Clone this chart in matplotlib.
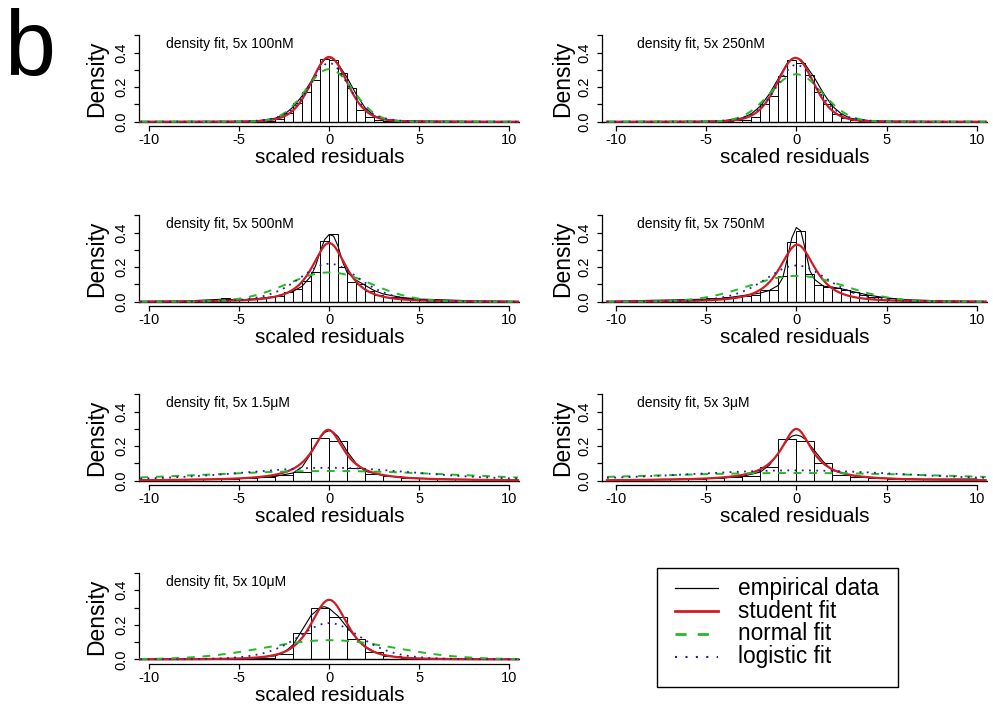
import math
import numpy as np
import matplotlib
matplotlib.use("Agg")
import matplotlib.pyplot as plt
from matplotlib.patches import Rectangle

plt.rcParams['font.family'] = ['Liberation Sans', 'DejaVu Sans']
plt.rcParams['axes.unicode_minus'] = False

# ---------------- data ----------------
titles = ["density fit, 5x 100nM", "density fit, 5x 250nM",
          "density fit, 5x 500nM", "density fit, 5x 750nM",
          "density fit, 5x 1.5\u03bcM", "density fit, 5x 3\u03bcM",
          "density fit, 5x 10\u03bcM"]

# histogram: first bin left edge, bin width, densities
hist_start = [-5.0, -5.0, -6.0, -8.0, -10.0, -10.0, -5.0]
hist_width = [0.5, 0.5, 0.5, 0.5, 1.0, 1.0, 1.0]
hist_100nM = [0.002, 0.002, 0.004, 0.006, 0.014, 0.052, 0.107, 0.175, 0.243, 0.365,
              0.355, 0.28, 0.194, 0.068, 0.025, 0.01, 0.006, 0.004, 0.004, 0.006]
hist_250nM = [0.002, 0.003, 0.005, 0.008, 0.01, 0.025, 0.1, 0.15, 0.265, 0.355,
              0.34, 0.27, 0.175, 0.1, 0.045, 0.02, 0.008, 0.005, 0.003, 0.002]
hist_500nM = [0.02, 0.01, 0.01, 0.015, 0.02, 0.025, 0.035, 0.055, 0.075, 0.12, 0.17, 0.35,
              0.39, 0.2, 0.115, 0.105, 0.06, 0.04, 0.03, 0.025, 0.02, 0.015, 0.015, 0.015]
hist_750nM = [0.008, 0.005, 0.005, 0.01,
              0.015, 0.015, 0.02, 0.02, 0.025, 0.03, 0.035, 0.04, 0.065, 0.07, 0.15, 0.345,
              0.41, 0.16, 0.095, 0.085, 0.08, 0.065, 0.055, 0.04, 0.03, 0.025, 0.02, 0.015,
              0.01, 0.01]
hist_1_5uM = [0.01, 0.01, 0.01, 0.012, 0.012, 0.015, 0.02, 0.035, 0.05, 0.25,
              0.228, 0.075, 0.04, 0.025, 0.018, 0.015, 0.012, 0.01, 0.01, 0.008]
hist_3uM = [0.008, 0.008, 0.01, 0.01, 0.012, 0.015, 0.02, 0.03, 0.08, 0.24,
            0.23, 0.1, 0.033, 0.02, 0.015, 0.012, 0.01, 0.01, 0.008, 0.008]
hist_10uM = [0.005, 0.01, 0.03, 0.155, 0.30, 0.245, 0.12, 0.04, 0.02, 0.01, 0.005]
hists = [hist_100nM, hist_250nM, hist_500nM, hist_750nM, hist_1_5uM, hist_3uM, hist_10uM]

# empirical density (kernel estimate) read at points
emp_x_100nM = [-10, -5, -4, -3, -2.5, -2, -1.5, -1, -0.5, -0.25, 0, 0.25, 0.5, 1, 1.5, 2, 2.5, 3, 4, 5, 10]
emp_y_100nM = [0, 0.002, 0.005, 0.02, 0.042, 0.085, 0.15, 0.235, 0.325, 0.362, 0.372, 0.362, 0.335,
               0.255, 0.16, 0.08, 0.035, 0.015, 0.005, 0.004, 0]
emp_x_250nM = emp_x_100nM
emp_y_250nM = [0, 0.002, 0.006, 0.022, 0.045, 0.09, 0.16, 0.25, 0.34, 0.365, 0.37, 0.36, 0.33,
               0.255, 0.165, 0.09, 0.045, 0.02, 0.007, 0.003, 0]
emp_x_500nM = [-10, -8, -6, -5, -4, -3, -2, -1.5, -1, -0.75, -0.5, -0.25, 0, 0.25, 0.5, 0.75, 1,
               1.5, 2, 2.5, 3, 4, 5, 6, 8, 10]
emp_y_500nM = [0.002, 0.004, 0.014, 0.01, 0.018, 0.03, 0.06, 0.09, 0.15, 0.21, 0.29, 0.36, 0.39,
               0.38, 0.32, 0.23, 0.17, 0.125, 0.095, 0.065, 0.045, 0.025, 0.015, 0.012, 0.005, 0.002]
emp_x_750nM = emp_x_500nM
emp_y_750nM = [0.003, 0.008, 0.012, 0.015, 0.02, 0.035, 0.05, 0.065, 0.095, 0.14, 0.25, 0.37, 0.43,
               0.41, 0.30, 0.18, 0.13, 0.09, 0.085, 0.075, 0.062, 0.038, 0.022, 0.012, 0.005, 0.002]
emp_x_1_5uM = [-10, -7, -5, -4, -3, -2, -1.5, -1, -0.5, -0.25, 0, 0.25, 0.5, 1, 1.5, 2, 3, 4, 5, 7, 10]
emp_y_1_5uM = [0.005, 0.008, 0.012, 0.016, 0.025, 0.045, 0.08, 0.16, 0.25, 0.28, 0.29, 0.28, 0.255,
               0.17, 0.1, 0.055, 0.03, 0.02, 0.014, 0.008, 0.005]
emp_x_3uM = emp_x_1_5uM
emp_y_3uM = [0.005, 0.008, 0.012, 0.016, 0.025, 0.05, 0.09, 0.16, 0.235, 0.258, 0.265, 0.258, 0.24,
             0.175, 0.11, 0.06, 0.03, 0.02, 0.014, 0.009, 0.01]
emp_x_10uM = [-10, -6, -5, -4, -3, -2.5, -2, -1.5, -1, -0.5, -0.25, 0, 0.5, 1, 1.5, 2, 2.5, 3, 4, 5, 6, 10]
emp_y_10uM = [0, 0.002, 0.004, 0.008, 0.02, 0.04, 0.085, 0.17, 0.255, 0.3, 0.305, 0.295, 0.25, 0.185,
              0.125, 0.075, 0.045, 0.025, 0.01, 0.004, 0.002, 0]
emp_xs = [emp_x_100nM, emp_x_250nM, emp_x_500nM, emp_x_750nM, emp_x_1_5uM, emp_x_3uM, emp_x_10uM]
emp_ys = [emp_y_100nM, emp_y_250nM, emp_y_500nM, emp_y_750nM, emp_y_1_5uM, emp_y_3uM, emp_y_10uM]

# fitted distribution parameters
student_df = [8, 8, 2, 2, 1, 1, 3]
student_loc = [0.0, -0.05, 0.0, 0.05, -0.05, 0.0, 0.0]
student_scale = [1.031, 1.045, 1.04, 1.071, 1.079, 1.061, 1.066]
normal_mean = [0.0, 0.0, 0.0, 0.0, 0.0, 0.0, 0.0]
normal_sd = [1.31, 1.45, 2.35, 2.66, 7.1, 8.9, 3.6]
logistic_loc = [0.0, 0.0, 0.0, 0.0, 0.0, 0.0, 0.0]
logistic_scale = [0.735, 0.758, 1.136, 1.19, 3.33, 4.17, 1.19]

legend_labels = ["empirical data", "student fit", "normal fit", "logistic fit"]

# ---------------- styles ----------------
RED = "#D01C24"
GREEN = "#22BB22"
BLUE = "#20209C"


def t_pdf(x, df, loc, scale):
    z = (x - loc) / scale
    c = math.exp(math.lgamma((df + 1) / 2) - math.lgamma(df / 2)) / math.sqrt(df * math.pi) / scale
    return c * (1 + z * z / df) ** (-(df + 1) / 2)


def norm_pdf(x, mu, sd):
    return np.exp(-0.5 * ((x - mu) / sd) ** 2) / (sd * math.sqrt(2 * math.pi))


def logis_pdf(x, mu, s):
    e = np.exp(-(x - mu) / s)
    return e / (s * (1 + e) ** 2)


W, H = 993, 710
fig = plt.figure(figsize=(W / 100, H / 100), dpi=100)

col_x10 = [(149.3, 509.0), (616.0, 976.7)]   # pixel of x=-10, x=10
col_xlim = [(-10.6, 10.62), (-10.8, 10.63)]
row_y0 = [121.7, 301.7, 480.7, 659.3]        # pixel of y=0
py = 172.5                                    # pixels per unit density
ylim = (-0.025, 0.52)
title_x = [-9.07, -8.85]

for i in range(7):
    r, c = divmod(i, 2)
    xa, xb = col_x10[c]
    ppx = (xb - xa) / 20.0
    x0, x1 = col_xlim[c]
    left = xa + (x0 + 10) * ppx
    width = (x1 - x0) * ppx
    top = row_y0[r] - ylim[1] * py
    height = (ylim[1] - ylim[0]) * py
    ax = fig.add_axes([left / W, 1 - (top + height) / H, width / W, height / H])
    ax.set_xlim(x0, x1)
    ax.set_ylim(*ylim)

    # histogram
    n = len(hists[i])
    edges = hist_start[i] + hist_width[i] * np.arange(n)
    ax.bar(edges, hists[i], width=hist_width[i], align='edge', fill=False,
           edgecolor='black', linewidth=0.7, zorder=2)
    ax.axhline(0, color='black', lw=1.0, zorder=2)

    xs = np.linspace(-10.5, 10.5, 800)
    ax.plot(emp_xs[i], emp_ys[i], color='black', lw=0.8, zorder=3)
    ax.plot(xs, t_pdf(xs, student_df[i], student_loc[i], student_scale[i]),
            color=RED, lw=1.6, zorder=4)
    ax.plot(xs, norm_pdf(xs, normal_mean[i], normal_sd[i]), color=GREEN, lw=1.4,
            dashes=(4, 4), zorder=5)
    ax.plot(xs, logis_pdf(xs, logistic_loc[i], logistic_scale[i]), color=BLUE, lw=1.3,
            dashes=(1, 3), zorder=6)

    ax.text(title_x[c], 0.45, titles[i], fontsize=10, ha='left', va='center')

    for s in ['top', 'right']:
        ax.spines[s].set_visible(False)
    ax.spines['left'].set_bounds(0, 0.5)
    ax.spines['bottom'].set_bounds(-10, 10)
    ax.spines['left'].set_linewidth(0.9)
    ax.spines['bottom'].set_linewidth(0.9)
    ax.set_xticks([-10, -5, 0, 5, 10])
    ax.set_xticklabels(["-10", "-5", "0", "5", "10"])
    ax.set_yticks([0, 0.1, 0.2, 0.3, 0.4, 0.5])
    ax.set_yticklabels(["0.0", "", "0.2", "", "0.4", ""], rotation=90, va='center')
    ax.tick_params(axis='both', direction='out', length=3.5, width=0.9, labelsize=10.5)
    ax.tick_params(axis='x', pad=1.5)
    ax.tick_params(axis='y', pad=3.5)
    ax.set_ylabel("Density", fontsize=16.5)
    ax.yaxis.set_label_coords(-0.11 if c == 0 else -0.10, 0.5)
    ax.set_xlabel("scaled residuals", fontsize=15)
    ax.xaxis.set_label_coords(0.5, -0.34)
    ax.xaxis.label.set_va('center')
    ax.yaxis.label.set_va('center')
    ax.patch.set_alpha(0)

# panel letter
fig.text(4 / W, 1 - 75 / H, "b", fontsize=66, ha='left', va='baseline')

# legend (drawn in pixel space)
lax = fig.add_axes([0, 0, 1, 1])
lax.set_xlim(0, W)
lax.set_ylim(H, 0)
lax.axis('off')
lax.add_patch(Rectangle((657, 568), 241, 119, fill=False, edgecolor='black', lw=1.0))
rows = [588.3, 611.0, 634.0, 656.7]
styles = [dict(color='black', lw=0.9),
          dict(color=RED, lw=2.0),
          dict(color=GREEN, lw=2.0, dashes=(4, 4)),
          dict(color=BLUE, lw=1.5, dashes=(1, 4))]
for yy, lab, st in zip(rows, legend_labels, styles):
    lax.plot([675, 718], [yy, yy], **st)
    lax.text(738, yy, lab, fontsize=16.3, ha='left', va='center')

fig.savefig("out.png", dpi=100)
